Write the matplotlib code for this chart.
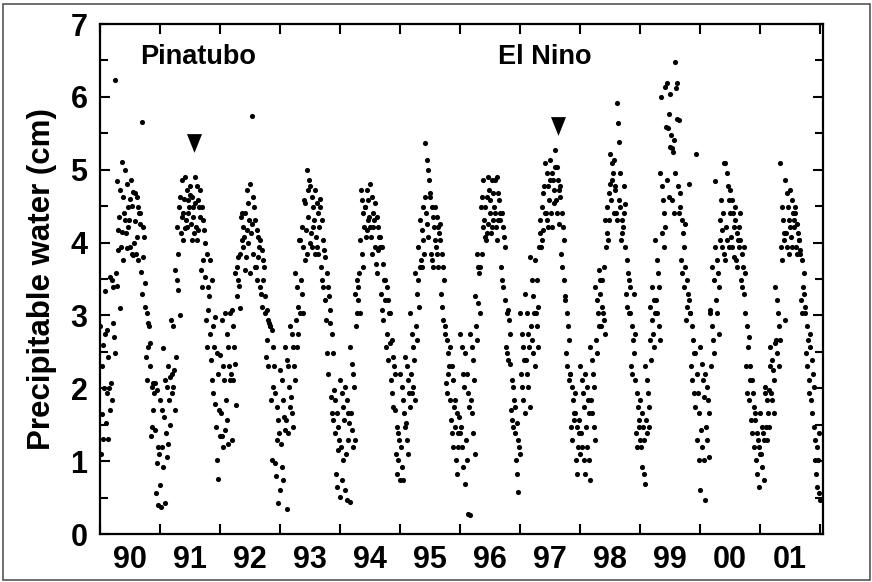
import matplotlib
matplotlib.use("Agg")
import matplotlib.pyplot as plt
from matplotlib.patches import Rectangle
from matplotlib.ticker import MultipleLocator, FixedLocator, NullFormatter, FixedFormatter

plt.rcParams['font.family'] = ['Liberation Sans', 'DejaVu Sans']
plt.rcParams['font.weight'] = 'bold'

# ---------------- data (precipitable water, cm; 8 readings per month) -------------
years = list(range(1990, 2002))
year_labels = ["90", "91", "92", "93", "94", "95", "96", "97", "98", "99", "00", "01"]

pw_1990 = [2.85, 1.1, 2.3, 1.65, 2.6, 1.3, 2.0, 3.34,
           2.75, 1.52, 2.8, 1.93, 2.43, 1.31, 2.0, 1.7,
           3.53, 2.07, 3.49, 1.84, 2.89, 3.39, 2.71, 2.48,
           6.23, 3.58, 4.84, 3.4, 4.17, 3.9, 4.35, 3.1,
           4.72, 3.94, 5.11, 4.15, 4.63, 3.76, 4.4, 4.31,
           4.99, 4.13, 4.81, 3.92, 4.49, 4.22, 4.31, 4.6,
           3.94, 4.86, 3.85, 4.5, 3.83, 4.7, 3.99, 4.3,
           4.68, 3.85, 4.63, 4.08, 4.49, 3.76, 4.4, 4.26,
           4.4, 3.6, 5.66, 3.3, 4.22, 3.8, 4.08, 3.44,
           3.12, 2.43, 3.03, 2.11, 2.89, 2.57, 2.85, 2.3,
           2.62, 1.34, 2.02, 1.47, 2.07, 1.7, 1.93, 1.43,
           2.07, 0.56, 1.98, 0.97, 1.2, 0.4, 1.1, 0.67]
pw_1991 = [1.84, 0.37, 1.7, 1.2, 2.55, 0.92, 1.61, 0.42,
           2.11, 1.38, 2.02, 1.06, 2.3, 1.24, 1.84, 1.5,
           2.16, 2.94, 1.93, 2.2, 2.85, 2.02, 2.25, 1.7,
           3.62, 2.43, 3.49, 4.22, 3.35, 3.85, 4.49, 3.0,
           4.63, 4.13, 4.86, 4.35, 4.03, 4.4, 4.6, 4.2,
           4.9, 4.31, 4.72, 4.22, 4.58, 4.4, 4.49, 4.65,
           4.77, 4.26, 4.63, 4.03, 4.49, 4.35, 4.13, 4.55,
           4.9, 4.22, 4.77, 4.03, 4.58, 4.17, 4.49, 4.35,
           4.72, 3.62, 4.49, 3.39, 4.31, 3.76, 4.17, 3.53,
           3.99, 2.94, 3.85, 2.57, 3.39, 3.07, 3.26, 2.75,
           3.76, 2.39, 3.49, 2.11, 2.85, 1.93, 2.57, 1.79,
           2.98, 1.47, 2.48, 1.02, 2.2, 0.76, 1.7, 1.34]
pw_1992 = [2.46, 1.66, 2.94, 1.34, 2.3, 1.2, 2.11, 1.43,
           3.03, 1.84, 2.75, 1.56, 2.57, 1.24, 2.3, 2.11,
           3.03, 2.2, 3.07, 1.29, 2.85, 2.11, 2.57, 2.34,
           3.58, 1.77, 3.67, 3.26, 3.49, 3.8, 3.4, 3.1,
           3.85, 4.35, 4.03, 4.4, 4.22, 3.94, 4.08, 3.62,
           4.4, 3.8, 4.72, 4.17, 4.54, 3.99, 4.31, 3.58,
           4.81, 4.13, 5.74, 4.26, 4.63, 3.85, 4.49, 3.67,
           4.31, 3.67, 4.17, 3.49, 4.08, 3.8, 3.94, 3.39,
           4.03, 3.3, 3.9, 3.12, 3.76, 3.49, 3.67, 3.03,
           3.26, 2.43, 3.07, 2.66, 2.94, 2.3, 2.89, 2.85,
           2.85, 1.84, 2.8, 1.02, 2.57, 2.02, 2.3, 0.97,
           1.93, 0.79, 1.75, 1.29, 1.56, 0.42, 1.38, 0.6]
pw_1993 = [2.25, 1.24, 2.11, 0.92, 1.84, 0.74, 1.61, 1.43,
           2.57, 1.56, 2.39, 0.35, 2.3, 1.38, 2.02, 1.75,
           2.85, 1.88, 2.75, 1.66, 2.57, 1.47, 2.3, 2.11,
           3.58, 2.94, 3.39, 2.57, 3.12, 2.75, 4.03, 3.03,
           4.03, 3.49, 4.22, 3.3, 3.94, 3.03, 4.58, 3.76,
           4.54, 4.17, 5.0, 3.85, 4.72, 4.35, 4.86, 3.99,
           4.77, 4.13, 4.63, 3.94, 4.49, 4.22, 4.31, 3.85,
           4.72, 4.08, 4.54, 3.94, 4.4, 3.85, 4.22, 4.6,
           4.49, 3.67, 4.31, 3.49, 4.03, 3.39, 3.9, 3.21,
           3.8, 2.94, 3.58, 2.48, 3.39, 2.2, 3.26, 3.07,
           2.89, 1.88, 2.75, 1.66, 2.48, 1.56, 1.98, 1.38,
           1.84, 0.83, 1.66, 0.65, 1.47, 1.15, 1.29, 0.51]
pw_1994 = [2.11, 1.2, 1.93, 0.74, 1.75, 1.02, 1.56, 0.6,
           2.02, 1.1, 1.84, 0.47, 1.66, 1.29, 1.52, 0.44,
           2.57, 1.66, 2.34, 1.43, 2.2, 1.2, 2.02, 1.29,
           3.3, 2.85, 3.49, 3.03, 3.39, 3.21, 3.58, 3.03,
           4.03, 4.72, 3.85, 4.58, 3.67, 4.4, 4.22, 4.49,
           4.49, 4.08, 4.72, 4.17, 4.58, 4.31, 4.35, 4.22,
           4.81, 4.08, 4.63, 3.85, 4.4, 4.22, 4.31, 3.94,
           4.54, 3.71, 4.35, 3.58, 4.22, 3.9, 4.08, 3.94,
           4.08, 3.3, 3.94, 3.07, 3.71, 2.94, 3.49, 3.21,
           3.49, 2.57, 3.39, 2.75, 3.21, 2.39, 3.03, 2.62,
           3.03, 2.11, 2.66, 1.93, 2.43, 1.75, 2.3, 2.2,
           1.7, 1.1, 1.47, 0.83, 1.38, 1.02, 1.29, 0.74]
pw_1995 = [2.2, 1.2, 2.02, 0.92, 1.84, 0.74, 1.66, 1.47,
           2.43, 1.52, 2.3, 1.29, 2.11, 1.1, 1.93, 1.75,
           3.03, 2.2, 2.75, 1.93, 2.57, 2.02, 2.39, 1.84,
           3.58, 2.85, 3.3, 2.66, 3.49, 3.94, 3.12, 3.67,
           4.31, 3.76, 4.17, 3.67, 4.03, 4.49, 3.85, 4.63,
           5.36, 4.4, 5.13, 4.26, 5.0, 4.08, 4.86, 4.63,
           4.68, 3.85, 4.49, 3.76, 4.35, 3.67, 4.22, 4.03,
           4.49, 3.94, 4.35, 3.85, 4.22, 3.67, 4.13, 4.26,
           4.03, 3.3, 3.85, 3.12, 3.67, 2.94, 3.49, 2.75,
           2.85, 2.07, 2.66, 1.93, 2.48, 2.2, 2.3, 1.84,
           2.57, 1.56, 2.3, 1.38, 2.11, 1.2, 1.75, 1.47,
           1.84, 1.02, 1.66, 0.83, 1.38, 1.2, 1.61, 1.38]
pw_1996 = [2.75, 1.47, 2.57, 1.2, 2.2, 0.92, 2.02, 0.69,
           2.48, 1.29, 2.2, 1.02, 1.93, 0.28, 1.75, 0.26,
           2.75, 1.84, 2.57, 1.66, 2.39, 1.38, 2.11, 1.1,
           3.26, 2.85, 3.85, 2.66, 3.67, 3.17, 3.58, 3.03,
           3.67, 4.49, 3.85, 4.63, 4.22, 4.86, 4.31, 4.08,
           4.49, 4.03, 4.63, 4.13, 4.9, 4.26, 4.72, 4.4,
           4.58, 4.13, 4.86, 4.22, 4.68, 4.31, 4.49, 4.4,
           4.86, 4.22, 4.9, 4.03, 4.68, 4.31, 4.58, 4.4,
           4.31, 3.67, 4.4, 3.49, 4.22, 3.39, 4.08, 3.94,
           3.21, 2.57, 3.03, 2.48, 3.07, 2.39, 2.94, 2.75,
           2.34, 1.7, 2.11, 1.56, 2.02, 1.47, 1.84, 1.38,
           1.75, 1.02, 1.52, 0.83, 1.29, 0.58, 1.2, 1.1]
pw_1997 = [3.03, 2.2, 2.75, 2.02, 2.57, 1.84, 2.39, 1.66,
           3.3, 2.39, 3.03, 2.2, 2.75, 2.02, 2.57, 1.75,
           3.8, 2.85, 3.49, 2.66, 3.26, 2.48, 3.03, 2.3,
           3.76, 3.03, 3.49, 2.85, 3.12, 2.57, 3.94, 4.13,
           4.31, 3.94, 4.49, 4.03, 4.68, 4.17, 4.77, 4.4,
           5.09, 4.4, 4.95, 4.31, 4.77, 4.22, 4.58, 4.86,
           5.13, 4.4, 4.95, 4.22, 4.86, 4.54, 4.72, 5.04,
           5.27, 4.58, 5.04, 4.4, 4.86, 4.26, 4.72, 4.77,
           4.63, 3.85, 4.4, 3.67, 4.22, 3.49, 4.03, 3.26,
           3.21, 2.48, 3.03, 2.3, 2.85, 2.11, 2.66, 2.2,
           2.2, 1.47, 2.02, 1.29, 1.84, 1.56, 1.66, 1.93,
           1.66, 1.02, 1.47, 0.83, 1.2, 1.38, 1.56, 1.1]
pw_1998 = [2.3, 1.38, 2.11, 1.2, 1.93, 1.02, 1.75, 0.83,
           2.2, 1.47, 2.02, 1.2, 1.84, 1.02, 1.66, 0.74,
           2.57, 1.84, 2.39, 1.66, 2.2, 1.47, 2.02, 1.29,
           3.39, 2.66, 3.21, 2.48, 3.03, 3.62, 2.85, 3.49,
           3.3, 2.85, 3.12, 3.49, 3.03, 3.67, 2.94, 2.75,
           4.31, 3.94, 4.13, 4.49, 4.03, 4.68, 4.31, 4.81,
           5.22, 4.58, 5.09, 4.86, 4.95, 4.4, 5.13, 4.72,
           4.77, 4.4, 5.91, 4.31, 5.64, 4.58, 5.38, 4.95,
           4.49, 4.03, 4.31, 4.13, 4.22, 4.77, 4.4, 4.53,
           3.94, 3.3, 3.76, 3.12, 3.58, 3.03, 3.49, 3.39,
           3.03, 2.3, 2.85, 2.2, 2.66, 3.3, 2.48, 2.75,
           2.11, 1.38, 1.93, 1.2, 1.75, 1.47, 1.56, 1.29]
pw_1999 = [1.84, 1.2, 1.66, 0.92, 1.47, 0.83, 1.29, 0.69,
           2.3, 1.56, 2.11, 1.38, 1.93, 1.47, 1.75, 2.66,
           3.12, 2.39, 2.94, 3.39, 2.75, 3.21, 2.57, 3.03,
           4.03, 3.21, 3.76, 3.03, 3.58, 2.85, 3.39, 2.66,
           4.95, 6.0, 4.77, 4.13, 4.58, 3.94, 4.4, 4.22,
           6.14, 5.59, 6.19, 4.86, 5.57, 4.63, 5.77, 5.31,
           6.04, 5.48, 5.3, 4.58, 5.25, 4.4, 5.41, 4.95,
           6.48, 6.12, 6.19, 5.7, 4.77, 5.68, 4.4, 4.68,
           4.49, 3.76, 4.31, 3.58, 4.13, 3.39, 3.94, 4.26,
           3.67, 2.94, 3.49, 3.12, 3.3, 4.81, 3.21, 3.03,
           3.03, 2.3, 2.85, 2.11, 2.66, 1.93, 2.48, 1.75,
           2.48, 5.22, 2.2, 1.29, 1.93, 1.02, 1.66, 0.6]
pw_2000 = [2.57, 1.43, 2.34, 1.2, 2.11, 1.02, 1.88, 0.47,
           2.2, 1.47, 2.02, 1.29, 1.84, 1.06, 1.66, 3.07,
           3.03, 2.3, 2.85, 3.67, 2.66, 3.49, 2.48, 4.84,
           3.94, 3.21, 3.76, 3.03, 3.58, 2.75, 3.39, 4.31,
           4.03, 4.58, 4.17, 3.94, 4.4, 3.85, 5.09, 3.76,
           5.09, 4.22, 4.95, 4.03, 4.77, 3.94, 4.58, 4.4,
           4.72, 4.08, 4.58, 3.94, 4.4, 3.8, 4.22, 4.49,
           4.31, 3.76, 4.13, 3.67, 4.03, 4.22, 3.94, 4.4,
           4.03, 3.49, 3.85, 3.39, 3.67, 3.3, 3.94, 3.58,
           3.03, 2.3, 2.85, 1.93, 2.57, 1.84, 2.71, 2.11,
           2.3, 1.56, 2.11, 1.38, 1.93, 1.2, 1.75, 1.66,
           1.56, 1.02, 1.38, 0.83, 1.29, 0.65, 1.2, 1.1]
pw_2001 = [1.66, 1.1, 1.47, 0.92, 1.38, 0.74, 1.29, 1.93,
           2.02, 1.47, 1.84, 1.29, 1.66, 1.98, 1.47, 2.3,
           2.57, 1.93, 2.39, 1.84, 2.25, 1.66, 2.11, 2.62,
           3.39, 2.66, 3.21, 2.48, 3.03, 2.3, 2.85, 2.66,
           5.09, 3.94, 4.49, 3.76, 4.31, 4.03, 4.13, 2.94,
           4.86, 4.13, 4.68, 3.94, 4.49, 3.85, 4.31, 4.22,
           4.72, 4.08, 4.58, 3.94, 4.4, 4.22, 4.31, 4.49,
           4.4, 3.94, 4.26, 3.85, 4.13, 4.03, 4.03, 3.9,
           3.85, 3.21, 3.76, 3.03, 3.39, 3.58, 3.3, 3.12,
           3.03, 2.48, 2.85, 2.3, 2.66, 2.11, 1.93, 2.75,
           2.57, 1.84, 2.39, 1.66, 2.2, 1.47, 2.02, 1.02,
           1.29, 0.83, 1.2, 0.65, 1.02, 0.56, 1.38, 0.47]

pw_by_year = [pw_1990, pw_1991, pw_1992, pw_1993, pw_1994, pw_1995,
              pw_1996, pw_1997, pw_1998, pw_1999, pw_2000, pw_2001]

event_names = ["Pinatubo", "El Nino"]
event_time = [1991.57, 1997.625]      # decimal year of the marker
event_value = [5.37, 5.60]            # cm, marker height
label_time = [1990.67, 1996.63]
label_value = [6.45, 6.45]

# ---------------- build series ----------------
t, v = [], []
for yr, vals in zip(years, pw_by_year):
    n = len(vals)
    for i, val in enumerate(vals):
        t.append(yr + (i + 0.5) / n)
        v.append(val)

# ---------------- figure ----------------
fig = plt.figure(figsize=(8.72, 5.82), dpi=100)
ax = fig.add_axes([100 / 872, 48 / 582, 722.5 / 872, 510 / 582])

ax.plot(t, v, linestyle='none', marker='o', markersize=3.7,
        color='black', markeredgewidth=0)

tri = [(-0.8, 1.0), (0.8, 1.0), (0.0, -1.0), (-0.8, 1.0)]
ax.plot(event_time, event_value, linestyle='none', marker=tri,
        markersize=13.5, color='black', markeredgewidth=0)
for name, xt, yt in zip(event_names, label_time, label_value):
    ax.text(xt, yt, name, fontsize=19.5, fontweight='bold',
            ha='left', va='baseline')

ax.set_xlim(1990, 2002.04)
ax.set_ylim(0, 7)

# x: ticks at year boundaries, labels at mid-year
ax.xaxis.set_major_locator(FixedLocator([y for y in range(1990, 2003)]))
ax.xaxis.set_major_formatter(NullFormatter())
ax.xaxis.set_minor_locator(FixedLocator([y + 0.5 for y in years]))
ax.xaxis.set_minor_formatter(FixedFormatter(year_labels))
ax.tick_params(axis='x', which='major', direction='in', length=7, width=1.5,
               top=True, bottom=True)
ax.tick_params(axis='x', which='minor', length=0, labelsize=22, pad=8)

ax.yaxis.set_major_locator(MultipleLocator(1))
ax.yaxis.set_minor_locator(MultipleLocator(0.5))
ax.tick_params(axis='y', which='major', direction='in', length=7, width=1.5,
               left=True, right=True, labelsize=22, pad=9)
ax.tick_params(axis='y', which='minor', direction='in', length=6, width=1.5,
               left=True, right=True)
for lab in ax.get_xticklabels(minor=True) + ax.get_yticklabels():
    lab.set_fontweight('bold')

for s in ax.spines.values():
    s.set_linewidth(1.6)

ax.set_ylabel("Precipitable water (cm)", fontsize=22.5, fontweight='bold', labelpad=10)

# outer frame of the figure
fig.patches.append(Rectangle((3 / 872, 2 / 582), 867 / 872, 576 / 582,
                             transform=fig.transFigure, fill=False,
                             edgecolor='#555555', linewidth=1.2))

fig.savefig("out.png", dpi=100)
